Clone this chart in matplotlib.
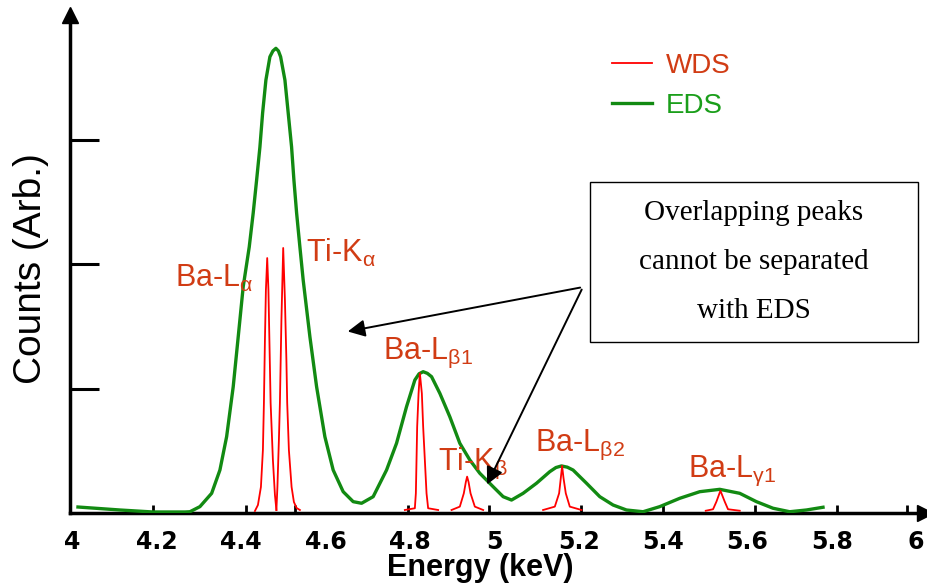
import numpy as np
import matplotlib
matplotlib.use('Agg')
import matplotlib.pyplot as plt
from matplotlib.patches import Rectangle

# EDS spectrum (energy keV, counts arb.)
eds_x = [4.0130, 4.1126, 4.1908, 4.2666, 4.2784, 4.3021, 4.3299, 4.3495, 4.3654,
         4.3810, 4.3929, 4.4047, 4.4190, 4.4284, 4.4365, 4.4443, 4.4507, 4.4585,
         4.4680, 4.4751, 4.4822, 4.4882, 4.4934, 4.5036, 4.5114, 4.5194, 4.5249,
         4.5313, 4.5391, 4.5469, 4.5628, 4.5787, 4.5983, 4.6180, 4.6417, 4.6654,
         4.6853, 4.7128, 4.7445, 4.7682, 4.7919, 4.8116, 4.8215, 4.8313, 4.8412,
         4.8512, 4.8709, 4.8945, 4.9182, 4.9419, 4.9656, 4.9972, 5.0209, 5.0408,
         5.0682, 5.1000, 5.1315, 5.1460, 5.1592, 5.1730, 5.1867, 5.2185, 5.2500,
         5.2815, 5.3133, 5.3526, 5.3922, 5.4396, 5.4870, 5.5344, 5.5818, 5.6213,
         5.6607, 5.7002, 5.7398, 5.7792]
eds_y = [0.048, 0.024, 0.008, 0.008, 0.010, 0.051, 0.158, 0.345, 0.613,
         1.014, 1.416, 1.818, 2.137, 2.410, 2.675, 2.940, 3.213, 3.478,
         3.665, 3.712, 3.733, 3.712, 3.665, 3.478, 3.213, 2.940, 2.675,
         2.410, 2.137, 1.871, 1.416, 1.014, 0.613, 0.345, 0.171, 0.091,
         0.078, 0.131, 0.345, 0.560, 0.854, 1.068, 1.118, 1.135, 1.122,
         1.095, 0.961, 0.773, 0.560, 0.426, 0.319, 0.211, 0.131, 0.104,
         0.158, 0.239, 0.332, 0.365, 0.378, 0.368, 0.345, 0.239, 0.131,
         0.064, 0.024, 0.010, 0.051, 0.118, 0.171, 0.190, 0.158, 0.091,
         0.038, 0.010, 0.024, 0.046]

# WDS lines, one short trace per peak
wds_bala_x = [4.4325, 4.4396, 4.4467, 4.4514, 4.4538, 4.4562, 4.4585, 4.4616,
              4.4645, 4.4668, 4.4697, 4.4751, 4.4799, 4.4834]
wds_bala_y = [0.016, 0.064, 0.209, 0.506, 0.884, 1.390, 1.791, 2.048,
              1.791, 1.390, 0.884, 0.426, 0.145, 0.024]
wds_tika_x = [4.4834, 4.4858, 4.4893, 4.4917, 4.4953, 4.4995, 4.5036, 4.5071,
              4.5090, 4.5130, 4.5194, 4.5249, 4.5313, 4.5391]
wds_tika_y = [0.024, 0.209, 0.586, 0.884, 1.550, 2.129, 1.711, 1.229,
              0.884, 0.506, 0.209, 0.088, 0.040, 0.024]
wds_balb1_x = [4.7879, 4.8116, 4.8140, 4.8171, 4.8204, 4.8235, 4.8282, 4.8313,
               4.8393, 4.8431, 4.8668]
wds_balb1_y = [0.024, 0.038, 0.158, 0.693, 0.961, 1.122, 0.961, 0.693,
               0.158, 0.038, 0.024]
wds_tikb_x = [4.8986, 4.9182, 4.9277, 4.9325, 4.9355, 4.9389, 4.9436, 4.9538, 4.9735]
wds_tikb_y = [0.024, 0.051, 0.158, 0.249, 0.292, 0.249, 0.158, 0.051, 0.024]
wds_balb2_x = [5.1156, 5.1434, 5.1536, 5.1576, 5.1607, 5.1640, 5.1694, 5.1789, 5.2066]
wds_balb2_y = [0.024, 0.051, 0.158, 0.281, 0.378, 0.281, 0.158, 0.051, 0.024]
wds_balg1_x = [5.5012, 5.5185, 5.5265, 5.5360, 5.5462, 5.5540, 5.5818]
wds_balg1_y = [0.018, 0.030, 0.091, 0.179, 0.091, 0.030, 0.018]

peak_labels = [r'Ba-L$_{\mathregular{α}}$', r'Ti-K$_{\mathregular{α}}$',
               r'Ba-L$_{\mathregular{β1}}$', r'Ti-K$_{\mathregular{β}}$',
               r'Ba-L$_{\mathregular{β2}}$', r'Ba-L$_{\mathregular{γ1}}$']
label_x = [4.243, 4.553, 4.736, 4.866, 5.096, 5.459]
label_y = [1.888, 2.088, 1.285, 0.402, 0.546, 0.337]

major_ticks = [4, 4.2, 4.4, 4.6, 4.8, 5, 5.2, 5.4, 5.6, 5.8, 6]
major_labels = ['4', '4.2', '4.4', '4.6', '4.8', '5', '5.2', '5.4', '5.6', '5.8', '6']
minor_ticks = [4.191, 4.411, 4.527, 4.795, 4.987, 5.205, 5.399, 5.617, 5.812, 5.978]

red = '#ff0000'
green = '#128a12'
txt_red = '#d13c14'

plt.rcParams['font.family'] = ['Liberation Sans', 'DejaVu Sans']

fig = plt.figure(figsize=(9.27, 5.83), dpi=100)
ax = fig.add_axes([0.0755, 0.1201, 0.922, 0.854])

ax.plot(eds_x, eds_y, color=green, lw=2.4, label='EDS', zorder=3,
        solid_joinstyle='round')
wds = [(wds_bala_x, wds_bala_y), (wds_tika_x, wds_tika_y),
       (wds_balb1_x, wds_balb1_y), (wds_tikb_x, wds_tikb_y),
       (wds_balb2_x, wds_balb2_y), (wds_balg1_x, wds_balg1_y)]
for i, (px, py) in enumerate(wds):
    ax.plot(px, py, color=red, lw=1.3, zorder=4, solid_joinstyle='round',
            label='WDS' if i == 0 else None)

for lab, lx, ly in zip(peak_labels, label_x, label_y):
    ax.text(lx, ly, lab, color=txt_red, fontsize=22, ha='left', va='center')

ax.set_xlim(3.99408, 6.0202)
ax.set_ylim(0, 4.0)
for s in ['top', 'right']:
    ax.spines[s].set_visible(False)
for s in ['left', 'bottom']:
    ax.spines[s].set_linewidth(2.5)
ax.plot(0, 1, '^k', ms=11, transform=ax.transAxes, clip_on=False)
ax.plot(1, 0, '>k', ms=11, transform=ax.transAxes, clip_on=False)

ax.set_xticks(major_ticks)
ax.set_xticklabels(major_labels, fontweight='bold', fontsize=17,
                   family='DejaVu Sans')
ax.set_xticks(minor_ticks, minor=True)
ax.tick_params(axis='x', which='major', length=0, pad=12)
ax.tick_params(axis='x', which='minor', direction='in', length=6, width=2)
ax.set_yticks([1, 2, 3])
ax.set_yticklabels([])
ax.tick_params(axis='y', direction='in', length=21, width=2.2)

handles, labels = ax.get_legend_handles_labels()
order = [labels.index('WDS'), labels.index('EDS')]
leg = ax.legend([handles[i] for i in order], [labels[i] for i in order],
                loc='upper left', bbox_to_anchor=(0.634, 0.924), frameon=False,
                fontsize=20, handlelength=1.45, handletextpad=0.5,
                labelspacing=0.5, borderaxespad=0, borderpad=0)
for t, c in zip(leg.get_texts(), [txt_red, '#1a9e1a']):
    t.set_color(c)

ax.add_patch(Rectangle((0.608, 0.343), 0.384, 0.322, transform=ax.transAxes,
                       fill=False, edgecolor='black', lw=1.0, zorder=5))
ax.text(0.800, 0.504, 'Overlapping peaks\ncannot be separated\nwith EDS',
        transform=ax.transAxes, ha='center', va='center', fontsize=21,
        family='Liberation Serif', linespacing=2.14)

arrow = dict(arrowstyle='-|>', color='black', lw=1.4, mutation_scale=26)
ax.annotate('', xy=(4.646, 1.454), xytext=(5.210, 1.815), arrowprops=arrow)
ax.annotate('', xy=(4.980, 0.209), xytext=(5.210, 1.815), arrowprops=arrow)

fig.text(31 / 927, 1 - 269 / 583, 'Counts (Arb.)', rotation=90, fontsize=28,
         ha='center', va='center')
fig.text(480 / 927, 1 - 576 / 583, 'Energy (keV)', fontsize=22,
         fontweight='bold', ha='center', va='baseline')

plt.savefig('out.png', dpi=100)
